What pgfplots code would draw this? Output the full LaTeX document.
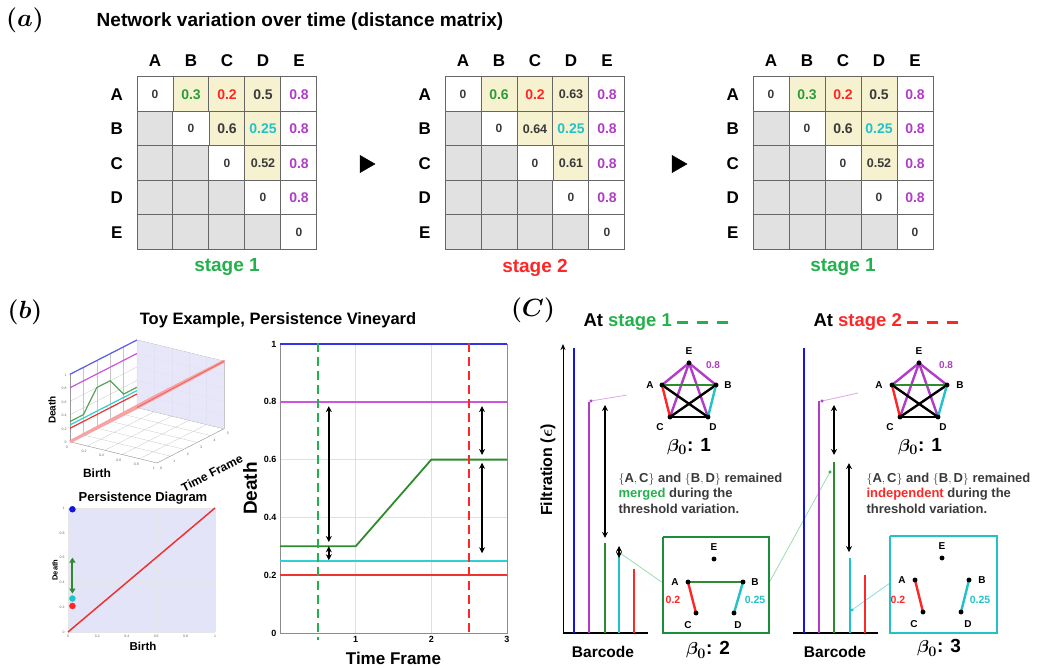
\documentclass[border=0pt]{standalone}
\usepackage{amsmath}
\usepackage{fontspec}
\setmainfont{Liberation Sans}
\usepackage{pgfplots}
\pgfplotsset{compat=1.18}
\usetikzlibrary{arrows.meta}
\definecolor{mgreen}{HTML}{2E9B3A}
\definecolor{sgreen}{HTML}{22B14C}
\definecolor{mred}{HTML}{FF2626}
\definecolor{mpurple}{HTML}{B03CC8}
\definecolor{mcyan}{HTML}{22C3C8}
\definecolor{mblue}{HTML}{1414E0}
\definecolor{cellgray}{HTML}{E1E1E1}
\definecolor{cellyellow}{HTML}{F6F1CF}
\definecolor{txtgray}{HTML}{3A3A3A}
\definecolor{lav}{HTML}{E4E4F8}
\definecolor{pblue}{HTML}{3333E6}
\definecolor{ppurple}{HTML}{CC55DD}
\definecolor{pgreen}{HTML}{2E8B2E}
\definecolor{pcyan}{HTML}{2ED0D0}
\definecolor{pred}{HTML}{EE3333}
\newcommand\fsz[1]{\fontsize{#1}{#1}\selectfont}
\pgfplotsset{
  matax/.style={scale only axis, width=180pt, height=172.5pt, xmin=0, xmax=5, ymin=0, ymax=5, y dir=reverse, hide axis, clip=false, anchor=north west},
  cells/.style={only marks, mark=square*, mark size=17.25pt, mark options={fill=#1, draw=black!60, line width=1pt, xscale=1.0435}},
  vals/.style={only marks, mark=none, color=#1, point meta=explicit symbolic, nodes near coords, every node near coord/.append style={anchor=center, font=\bfseries\fsz{14}}},
  dvals/.style={only marks, mark=none, color=txtgray, point meta=explicit symbolic, nodes near coords, every node near coord/.append style={anchor=center, font=\bfseries\fsz{#1}}},
  dblarrow/.style={black, line width=1.8pt, {Stealth[length=6pt,width=6pt]}-{Stealth[length=6pt,width=6pt]}},
}
% #1 x, #2 AB, #3 AD, #4 BC, #5 CD, #6 font size AD, #7 font size BC, #8 stage text, #9 colour
\newcommand\dmat[9]{%
\begin{axis}[matax, at={(#1pt,-77pt)}]
\addplot[cells=cellgray] coordinates {(0.5,1.5)(0.5,2.5)(1.5,2.5)(0.5,3.5)(1.5,3.5)(2.5,3.5)(0.5,4.5)(1.5,4.5)(2.5,4.5)(3.5,4.5)};
\addplot[cells=cellyellow] coordinates {(1.5,0.5)(2.5,0.5)(3.5,0.5)(2.5,1.5)(3.5,1.5)(3.5,2.5)};
\addplot[cells=white] coordinates {(0.5,0.5)(1.5,1.5)(2.5,2.5)(3.5,3.5)(4.5,4.5)(4.5,0.5)(4.5,1.5)(4.5,2.5)(4.5,3.5)};
\addplot[dvals=12] coordinates {(0.5,0.5)[0] (1.5,1.5)[0] (2.5,2.5)[0] (3.5,3.5)[0] (4.5,4.5)[0]};
\addplot[vals=mgreen] coordinates {(1.5,0.5)[#2]};
\addplot[vals=mred] coordinates {(2.5,0.5)[0.2]};
\addplot[dvals=#6] coordinates {(3.5,0.5)[#3]};
\addplot[dvals=#7] coordinates {(2.5,1.5)[#4]};
\addplot[dvals=12.5] coordinates {(3.5,2.5)[#5]};
\addplot[vals=mcyan] coordinates {(3.5,1.5)[0.25]};
\addplot[vals=mpurple] coordinates {(4.5,0.5)[0.8] (4.5,1.5)[0.8] (4.5,2.5)[0.8] (4.5,3.5)[0.8]};
\node[font=\bfseries\fsz{17}] at (axis cs:0.5,-0.46) {A};
\node[font=\bfseries\fsz{17}] at (axis cs:1.5,-0.46) {B};
\node[font=\bfseries\fsz{17}] at (axis cs:2.5,-0.46) {C};
\node[font=\bfseries\fsz{17}] at (axis cs:3.5,-0.46) {D};
\node[font=\bfseries\fsz{17}] at (axis cs:4.5,-0.46) {E};
\node[font=\bfseries\fsz{17}] at (axis cs:-0.56,0.5) {A};
\node[font=\bfseries\fsz{17}] at (axis cs:-0.56,1.5) {B};
\node[font=\bfseries\fsz{17}] at (axis cs:-0.56,2.5) {C};
\node[font=\bfseries\fsz{17}] at (axis cs:-0.56,3.5) {D};
\node[font=\bfseries\fsz{17}] at (axis cs:-0.56,4.5) {E};
\node[font=\bfseries\fsz{19}, text=#9] at (axis cs:2.5,5.52) {#8};
\end{axis}}
\begin{document}
\begin{tikzpicture}
\begin{axis}[at={(0pt,0pt)}, anchor=north west, scale only axis, width=1042pt, height=668pt,
  xmin=0, xmax=1042, ymin=0, ymax=668, y dir=reverse, hide axis, clip=false]
\addplot[black, only marks, mark=triangle*, mark size=10pt, mark options={rotate=-90, fill=black}] coordinates {(365,164)(677,164)};
\addplot[sgreen, line width=3pt, dash pattern=on 11pt off 9pt] coordinates {(677,322)(728,322)};
\addplot[mred, line width=3pt, dash pattern=on 11pt off 9pt] coordinates {(907,322)(958,322)};
\addplot[mpurple!45, line width=0.8pt] coordinates {(591,401)(627,395)};
\addplot[mpurple!45, line width=0.8pt] coordinates {(822,401)(858,393)};
\addplot[mpurple, only marks, mark=*, mark size=1.3pt] coordinates {(591,401)(822,401)};
\addplot[sgreen!45, line width=0.8pt] coordinates {(620,553)(663,583)};
\addplot[sgreen!45, line width=0.8pt] coordinates {(769,583)(830,472)};
\addplot[sgreen, only marks, mark=*, mark size=1.3pt] coordinates {(830,472)};
\addplot[mcyan!55, line width=0.8pt] coordinates {(890,583)(852,610)};
\addplot[mcyan, only marks, mark=*, mark size=1.3pt] coordinates {(852,610)};
\addplot[mpurple, line width=2.4pt] coordinates {(662,385)(689,363)(716,385)};
\addplot[mpurple, line width=2.4pt] coordinates {(670,417)(689,363)(708,417)};
\addplot[pgreen, line width=2.4pt] coordinates {(662,385)(716,385)};
\addplot[black, line width=2.4pt] coordinates {(662,385)(708,417)};
\addplot[black, line width=2.4pt] coordinates {(716,385)(670,417)};
\addplot[black, line width=2.4pt] coordinates {(670,417)(708,417)};
\addplot[mred, line width=2.4pt] coordinates {(662,385)(670,417)};
\addplot[mcyan, line width=2.4pt] coordinates {(716,385)(708,417)};
\addplot[black, only marks, mark=*, mark size=2.2pt] coordinates {(662,385)(716,385)(670,417)(708,417)(689,363)};
\addplot[mpurple, line width=2.4pt] coordinates {(892,385)(919,363)(947,385)};
\addplot[mpurple, line width=2.4pt] coordinates {(900,417)(919,363)(938,417)};
\addplot[pgreen, line width=2.4pt] coordinates {(892,385)(947,385)};
\addplot[black, line width=2.4pt] coordinates {(892,385)(938,417)};
\addplot[black, line width=2.4pt] coordinates {(947,385)(900,417)};
\addplot[black, line width=2.4pt] coordinates {(900,417)(938,417)};
\addplot[mred, line width=2.4pt] coordinates {(892,385)(900,417)};
\addplot[mcyan, line width=2.4pt] coordinates {(947,385)(938,417)};
\addplot[black, only marks, mark=*, mark size=2.2pt] coordinates {(892,385)(947,385)(900,417)(938,417)(919,363)};
\addplot[sgreen!80!black, line width=1.4pt] coordinates {(663,537)(769,537)(769,633)(663,633)(663,537)};
\addplot[mcyan, line width=1.4pt] coordinates {(890,536)(997,536)(997,633)(890,633)(890,536)};
\addplot[pgreen, line width=2.4pt] coordinates {(688,582)(743,582)};
\addplot[mred, line width=2.4pt] coordinates {(688,582)(696,613)};
\addplot[mcyan, line width=2.4pt] coordinates {(743,582)(734,613)};
\addplot[black, only marks, mark=*, mark size=2.2pt] coordinates {(688,582)(743,582)(696,613)(734,613)(714,559)};
\addplot[mred, line width=2.4pt] coordinates {(915,580)(923,612)};
\addplot[mcyan, line width=2.4pt] coordinates {(969,580)(961,612)};
\addplot[black, only marks, mark=*, mark size=2.2pt] coordinates {(915,580)(969,580)(923,612)(961,612)(942,558)};
\end{axis}
\dmat{137}{0.3}{0.5}{0.6}{0.52}{14}{14}{stage 1}{sgreen}
\dmat{445}{0.6}{0.63}{0.64}{0.61}{12.5}{12.5}{stage 2}{mred}
\dmat{753}{0.3}{0.5}{0.6}{0.52}{14}{14}{stage 1}{sgreen}
\begin{axis}[at={(70pt,-463pt)}, anchor=south west, scale only axis, width=154pt, height=123pt,
  view={34.6}{20.5}, plot box ratio=1.48 1.65 1, xmin=0, xmax=1, ymin=0, ymax=5, zmin=0, zmax=1,
  grid=major, major grid style={black!22, line width=0.3pt},
  axis line style={black!40, line width=0.3pt}, tick style={draw=none},
  xtick={0,0.2,0.4,0.6,0.8,1}, ytick={0,1,2,3,4,5}, ztick={0,0.2,0.4,0.6,0.8,1},
  xticklabels={0,0.2,0.4,0.6,0.8,1}, yticklabels={0,1,2,3,4,5}, zticklabels={0,0.2,0.4,0.6,0.8,1},
  ticklabel style={font=\fsz{3.5}, text=black!60}, clip=false]
\addplot3[fill=lav, draw=none, fill opacity=0.9] coordinates {(0,5,0)(1,5,0)(1,5,1)(0,5,1)(0,5,0)};
\addplot3[pblue!80, line width=1.2pt] coordinates {(0,0,1)(0,5,1)};
\addplot3[ppurple, line width=1.2pt] coordinates {(0,0,0.8)(0,5,0.8)};
\addplot3[pgreen!80, line width=1.2pt] coordinates {(0,0,0.3)(0,1,0.3)(0,2,0.6)(0,3,0.6)(0,4,0.3)(0,5,0.3)};
\addplot3[pcyan, line width=1.2pt] coordinates {(0,0,0.25)(0,5,0.25)};
\addplot3[pred, line width=1.2pt] coordinates {(0,0,0.2)(0,5,0.2)};
\addplot3[fill=pred!45, draw=pred!45, line width=3pt, line join=round, fill opacity=0.9] coordinates {(0,0,0)(1,0,1)(1,5,1)(0,5,0)(0,0,0)};
\addplot3[pred!80, line width=0.8pt] coordinates {(0,5,0)(1,5,1)};
\end{axis}
\begin{axis}[at={(68pt,-632pt)}, anchor=south west, scale only axis, width=147pt, height=124pt,
  xmin=0, xmax=1, ymin=0, ymax=1, axis background/.style={fill=lav},
  grid=major, major grid style={black!10, line width=0.3pt},
  axis line style={draw=none}, tick style={draw=none},
  xtick={0,0.2,0.4,0.6,0.8,1}, ytick={0,0.2,0.4,0.6,0.8,1},
  xticklabels={0,0.2,0.4,0.6,0.8,1}, yticklabels={0,0.2,0.4,0.6,0.8,1},
  ticklabel style={font=\fsz{3.5}, text=black!60}, clip=false]
\addplot[pred, line width=1.5pt] coordinates {(0,0)(1,1)};
\addplot[pgreen, line width=2pt, {Triangle[length=5pt,width=6pt]}-{Triangle[length=5pt,width=6pt]}] coordinates {(0.03,0.60)(0.03,0.31)};
\addplot[mblue, only marks, mark=*, mark size=3pt] coordinates {(0.03,0.99)};
\addplot[mcyan, only marks, mark=*, mark size=3pt] coordinates {(0.03,0.27)};
\addplot[mred, only marks, mark=*, mark size=3pt] coordinates {(0.03,0.21)};
\end{axis}
\begin{axis}[at={(280pt,-633pt)}, anchor=south west, scale only axis, width=227pt, height=289pt,
  xmin=0, xmax=3, ymin=0, ymax=1, xtick={1,2,3}, xticklabels={1,2,3},
  ytick={0,0.2,0.4,0.6,0.8,1}, yticklabels={0,0.2,0.4,0.6,0.8,1},
  grid=major, major grid style={black!12, line width=0.6pt},
  axis line style={black!45, line width=0.7pt}, tick style={draw=none},
  ticklabel style={font=\bfseries\fsz{9}},
  xlabel={Time Frame}, ylabel={Death},
  xlabel style={font=\bfseries\fsz{17}, at={(axis description cs:0.5,-0.087)}, anchor=center},
  ylabel style={font=\bfseries\fsz{19}, at={(axis description cs:-0.132,0.5)}, anchor=center},
  clip=false]
\addplot[pblue, line width=1.8pt] coordinates {(0,1)(3,1)};
\addplot[ppurple, line width=1.8pt] coordinates {(0,0.8)(3,0.8)};
\addplot[pgreen, line width=1.8pt] coordinates {(0,0.3)(1,0.3)(2,0.6)(3,0.6)};
\addplot[pcyan, line width=1.8pt] coordinates {(0,0.25)(3,0.25)};
\addplot[pred, line width=1.8pt] coordinates {(0,0.2)(3,0.2)};
\addplot[sgreen, line width=2.6pt, dash pattern=on 9pt off 5pt] coordinates {(0.5,1.005)(0.5,-0.025)};
\addplot[mred, line width=2.6pt, dash pattern=on 9pt off 5pt] coordinates {(2.5,1.005)(2.5,0)};
\addplot[dblarrow] coordinates {(0.645,0.785)(0.645,0.315)};
\addplot[dblarrow] coordinates {(0.645,0.30)(0.645,0.252)};
\addplot[dblarrow] coordinates {(2.67,0.785)(2.67,0.616)};
\addplot[dblarrow] coordinates {(2.67,0.589)(2.67,0.276)};
\end{axis}
\begin{axis}[at={(563pt,-633pt)}, anchor=south west, scale only axis, width=85pt, height=289pt,
  xmin=563, xmax=648, ymin=0, ymax=1, axis x line=bottom, axis y line=left,
  x axis line style={-, line width=2.4pt}, y axis line style={-{Stealth[length=6pt,width=5pt]}, line width=1pt},
  xtick=\empty, ytick=\empty, clip=false]
\addplot[mblue, ycomb, line width=2.6pt] coordinates {(574,0.986)};
\addplot[mpurple, ycomb, line width=2.6pt] coordinates {(589,0.799)};
\addplot[pgreen, ycomb, line width=2.6pt] coordinates {(605,0.311)};
\addplot[mcyan, ycomb, line width=2.6pt] coordinates {(619,0.294)};
\addplot[mred, ycomb, line width=2.6pt] coordinates {(634,0.221)};
\addplot[dblarrow] coordinates {(605,0.789)(605,0.329)};
\addplot[dblarrow] coordinates {(619,0.301)(619,0.260)};
\end{axis}
\begin{axis}[at={(793pt,-633pt)}, anchor=south west, scale only axis, width=85pt, height=289pt,
  xmin=793, xmax=878, ymin=0, ymax=1, axis x line=bottom, axis y line=none,
  x axis line style={-, line width=2.4pt},
  xtick=\empty, ytick=\empty, clip=false]
\addplot[mblue, ycomb, line width=2.6pt] coordinates {(804,0.986)};
\addplot[mpurple, ycomb, line width=2.6pt] coordinates {(819,0.802)};
\addplot[pgreen, ycomb, line width=2.6pt] coordinates {(834,0.592)};
\addplot[mcyan, ycomb, line width=2.6pt] coordinates {(850,0.260)};
\addplot[mred, ycomb, line width=2.6pt] coordinates {(865,0.201)};
\addplot[dblarrow] coordinates {(834,0.789)(834,0.616)};
\addplot[dblarrow] coordinates {(849,0.588)(849,0.280)};
\end{axis}
\begin{scope}[x=1pt,y=-1pt]
\node[font=\fsz{26}] at (25,20) {$\boldsymbol{(a)}$};
\node[font=\bfseries\fsz{19}] at (300,22) {Network variation over time (distance matrix)};
\node[font=\fsz{26}] at (25,312) {$\boldsymbol{(b)}$};
\node[font=\fsz{26}] at (533,310) {$\boldsymbol{(C)}$};
\node[font=\bfseries\fsz{16.5}] at (278,320) {Toy Example, Persistence Vineyard};
\node[font=\bfseries\fsz{13}] at (143,498) {Persistence Diagram};
\node[rotate=90, font=\bfseries\fsz{10}] at (52,410) {Death};
\node[font=\bfseries\fsz{12}] at (97,473) {Birth};
\node[rotate=27, font=\bfseries\fsz{12}] at (212,473) {Time Frame};
\node[rotate=90, font=\bfseries\fsz{7.5}] at (55,570) {Death};
\node[font=\bfseries\fsz{11.5}] at (143,646) {Birth};
\node[anchor=west, font=\bfseries\fsz{18.5}] at (580,322) {At \textcolor{sgreen}{stage 1}};
\node[anchor=west, font=\bfseries\fsz{18.5}] at (810,322) {At \textcolor{mred}{stage 2}};
\node[rotate=90, font=\bfseries\fsz{16}] at (548,470) {Filtration ($\boldsymbol{\epsilon}$)};
\node[font=\bfseries\fsz{15.5}] at (603,652) {Barcode};
\node[font=\bfseries\fsz{15.5}] at (835,652) {Barcode};
\node[anchor=west, align=left, text=txtgray, font=\bfseries\fontsize{13}{15.5}\selectfont] at (615,493) {$\{\mathbf{A},\mathbf{C}\}$ and $\{\mathbf{B},\mathbf{D}\}$ remained\\\textcolor{sgreen}{merged} during the\\threshold variation.};
\node[anchor=west, align=left, text=txtgray, font=\bfseries\fontsize{13}{15.5}\selectfont] at (863,493) {$\{\mathbf{A},\mathbf{C}\}$ and $\{\mathbf{B},\mathbf{D}\}$ remained\\\textcolor{mred}{independent} during the\\threshold variation.};
\begin{scope}[every node/.style={font=\bfseries\fsz{10}}]
\node at (689,351) {E}; \node at (650,385) {A}; \node at (728,385) {B}; \node at (660,427) {C}; \node at (713,427) {D};
\node[text=mpurple, font=\bfseries\fsz{10}] at (713,365) {0.8};
\node at (919,351) {E}; \node at (879,385) {A}; \node at (960,385) {B}; \node at (890,427) {C}; \node at (943,427) {D};
\node[text=mpurple, font=\bfseries\fsz{10}] at (946,365) {0.8};
\node at (714,547) {E}; \node at (675,582) {A}; \node at (755,582) {B}; \node at (688,625) {C}; \node at (738,625) {D};
\node[text=mred, font=\bfseries\fsz{10.5}] at (673,600) {0.2};
\node[text=mcyan, font=\bfseries\fsz{10.5}] at (755,600) {0.25};
\node at (942,546) {E}; \node at (902,580) {A}; \node at (982,580) {B}; \node at (914,624) {C}; \node at (968,624) {D};
\node[text=mred, font=\bfseries\fsz{10.5}] at (898,600) {0.2};
\node[text=mcyan, font=\bfseries\fsz{10.5}] at (980,600) {0.25};
\end{scope}
\node[font=\bfseries\fsz{19}] at (689,447) {$\boldsymbol{\beta_0}$: 1};
\node[font=\bfseries\fsz{19}] at (920,447) {$\boldsymbol{\beta_0}$: 1};
\node[font=\bfseries\fsz{19}] at (708,650) {$\boldsymbol{\beta_0}$: 2};
\node[font=\bfseries\fsz{19}] at (939,648) {$\boldsymbol{\beta_0}$: 3};
\end{scope}
\pgfresetboundingbox
\path[use as bounding box] (0pt,0pt) rectangle (1042pt,-668pt);
\end{tikzpicture}
\end{document}
